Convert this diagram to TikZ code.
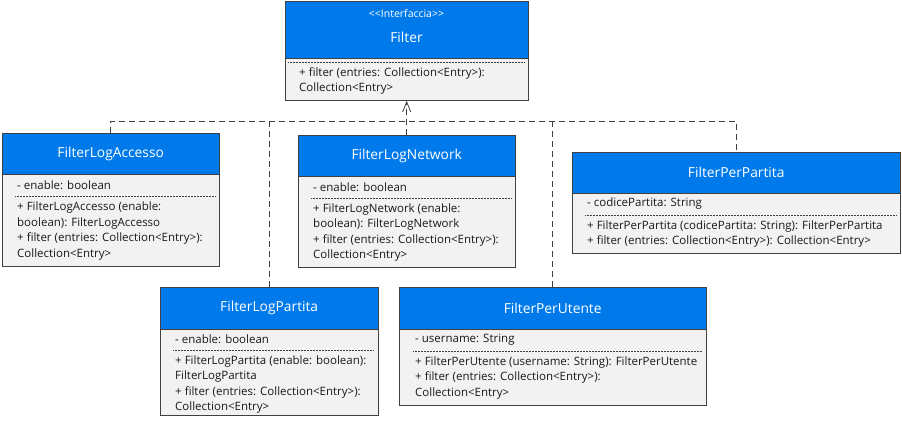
\documentclass[tikz,border=0pt]{standalone}
\usepackage{fontspec}
\setmainfont{Open Sans}
\usepackage{tikz}
\usetikzlibrary{arrows.meta}
\definecolor{umlblue}{RGB}{0,122,235}
\definecolor{umlgray}{RGB}{242,242,242}
\definecolor{umlline}{RGB}{64,64,64}
\tikzstyle{head} = [rectangle, draw=umlline, fill=umlblue, text=white,
                    anchor=north west, inner sep=0pt,
                    font=\fontsize{13.8}{16}\selectfont]
\tikzstyle{body} = [rectangle, draw=umlline, fill=umlgray,
                    anchor=north west, inner sep=0pt]
\tikzstyle{member} = [anchor=west, align=left, inner sep=0pt, text=black!90,
                      font=\fontsize{11.5}{15.5}\selectfont]
\tikzstyle{sep} = [densely dotted, umlline, line width=0.5pt]
\tikzstyle{dep} = [umlline, dash pattern=on 6pt off 4pt, line width=0.8pt]

\begin{document}
\begin{tikzpicture}[x=1pt,y=-1pt]
\useasboundingbox (0,0) rectangle (902,423);
%Filter (interface)
\node[head, minimum width=243pt, minimum height=57pt] (filH) at (285,1) {};
\node[text=white, font=\fontsize{10.5}{12}\selectfont] (filS) at (406.5,14) {{<}{<}Interfaccia{>}{>}};
\node[text=white, font=\fontsize{13.8}{16}\selectfont] (filT) at (406.5,37) {Filter};
\node[body, minimum width=243pt, minimum height=42pt] (filB) at (filH.south west) {};
\draw[sep] (288,62) -- (525,62);
\node[member] (filM) at (299,81) {+ filter (entries: Collection<Entry>):\\Collection<Entry>};

%FilterLogAccesso
\node[head, minimum width=217pt, minimum height=41pt] (accH) at (2,133) {FilterLogAccesso};
\node[body, minimum width=217pt, minimum height=92pt] (accB) at (accH.south west) {};
\node[member] (accA) at (17,185) {- enable: boolean};
\draw[sep] (15,196) -- (215,196);
\node[member] (accM) at (17,231) {+ FilterLogAccesso (enable:\\boolean): FilterLogAccesso\\+ filter (entries: Collection<Entry>):\\Collection<Entry>};

%FilterLogNetwork
\node[head, minimum width=217pt, minimum height=41pt] (netH) at (298,135) {FilterLogNetwork};
\node[body, minimum width=217pt, minimum height=91pt] (netB) at (netH.south west) {};
\node[member] (netA) at (313,187) {- enable: boolean};
\draw[sep] (311,198) -- (511,198);
\node[member] (netM) at (313,232.5) {+ FilterLogNetwork (enable:\\boolean): FilterLogNetwork\\+ filter (entries: Collection<Entry>):\\Collection<Entry>};

%FilterPerPartita
\node[head, minimum width=328pt, minimum height=41pt] (ppH) at (572,152) {FilterPerPartita};
\node[body, minimum width=328pt, minimum height=60pt] (ppB) at (ppH.south west) {};
\node[member] (ppA) at (587,204) {- codicePartita: String};
\draw[sep] (585,215) -- (896,215);
\node[member] (ppM) at (587,234) {+ FilterPerPartita (codicePartita: String): FilterPerPartita\\+ filter (entries: Collection<Entry>): Collection<Entry>};

%FilterLogPartita
\node[head, minimum width=218pt, minimum height=42pt] (lpH) at (160,287) {FilterLogPartita};
\node[body, minimum width=218pt, minimum height=86pt] (lpB) at (lpH.south west) {};
\node[member] (lpA) at (175,339.5) {- enable: boolean};
\draw[sep] (173,350) -- (374,350);
\node[member] (lpM) at (175,384.5) {+ FilterLogPartita (enable: boolean):\\FilterLogPartita\\+ filter (entries: Collection<Entry>):\\Collection<Entry>};

%FilterPerUtente
\node[head, minimum width=307pt, minimum height=42pt] (puH) at (399,287) {FilterPerUtente};
\node[body, minimum width=307pt, minimum height=76pt] (puB) at (puH.south west) {};
\node[member] (puA) at (415,340) {- username: String};
\draw[sep] (413,351) -- (702,351);
\node[member] (puM) at (415,378) {+ FilterPerUtente (username: String): FilterPerUtente\\+ filter (entries: Collection<Entry>):\\Collection<Entry>};

%realizations
\coordinate (bus) at (0,121);
\draw[dep] (accH.north) -- (accH.north |- bus) -- (ppH.north |- bus) -- (ppH.north);
\draw[dep] (lpH.north) -- (lpH.north |- bus);
\draw[dep] (puH.north) -- (puH.north |- bus);
\draw[dep, -{Straight Barb[length=10pt,width=8pt]}] (netH.north) -- (filB.south);

\end{tikzpicture}
\end{document}
